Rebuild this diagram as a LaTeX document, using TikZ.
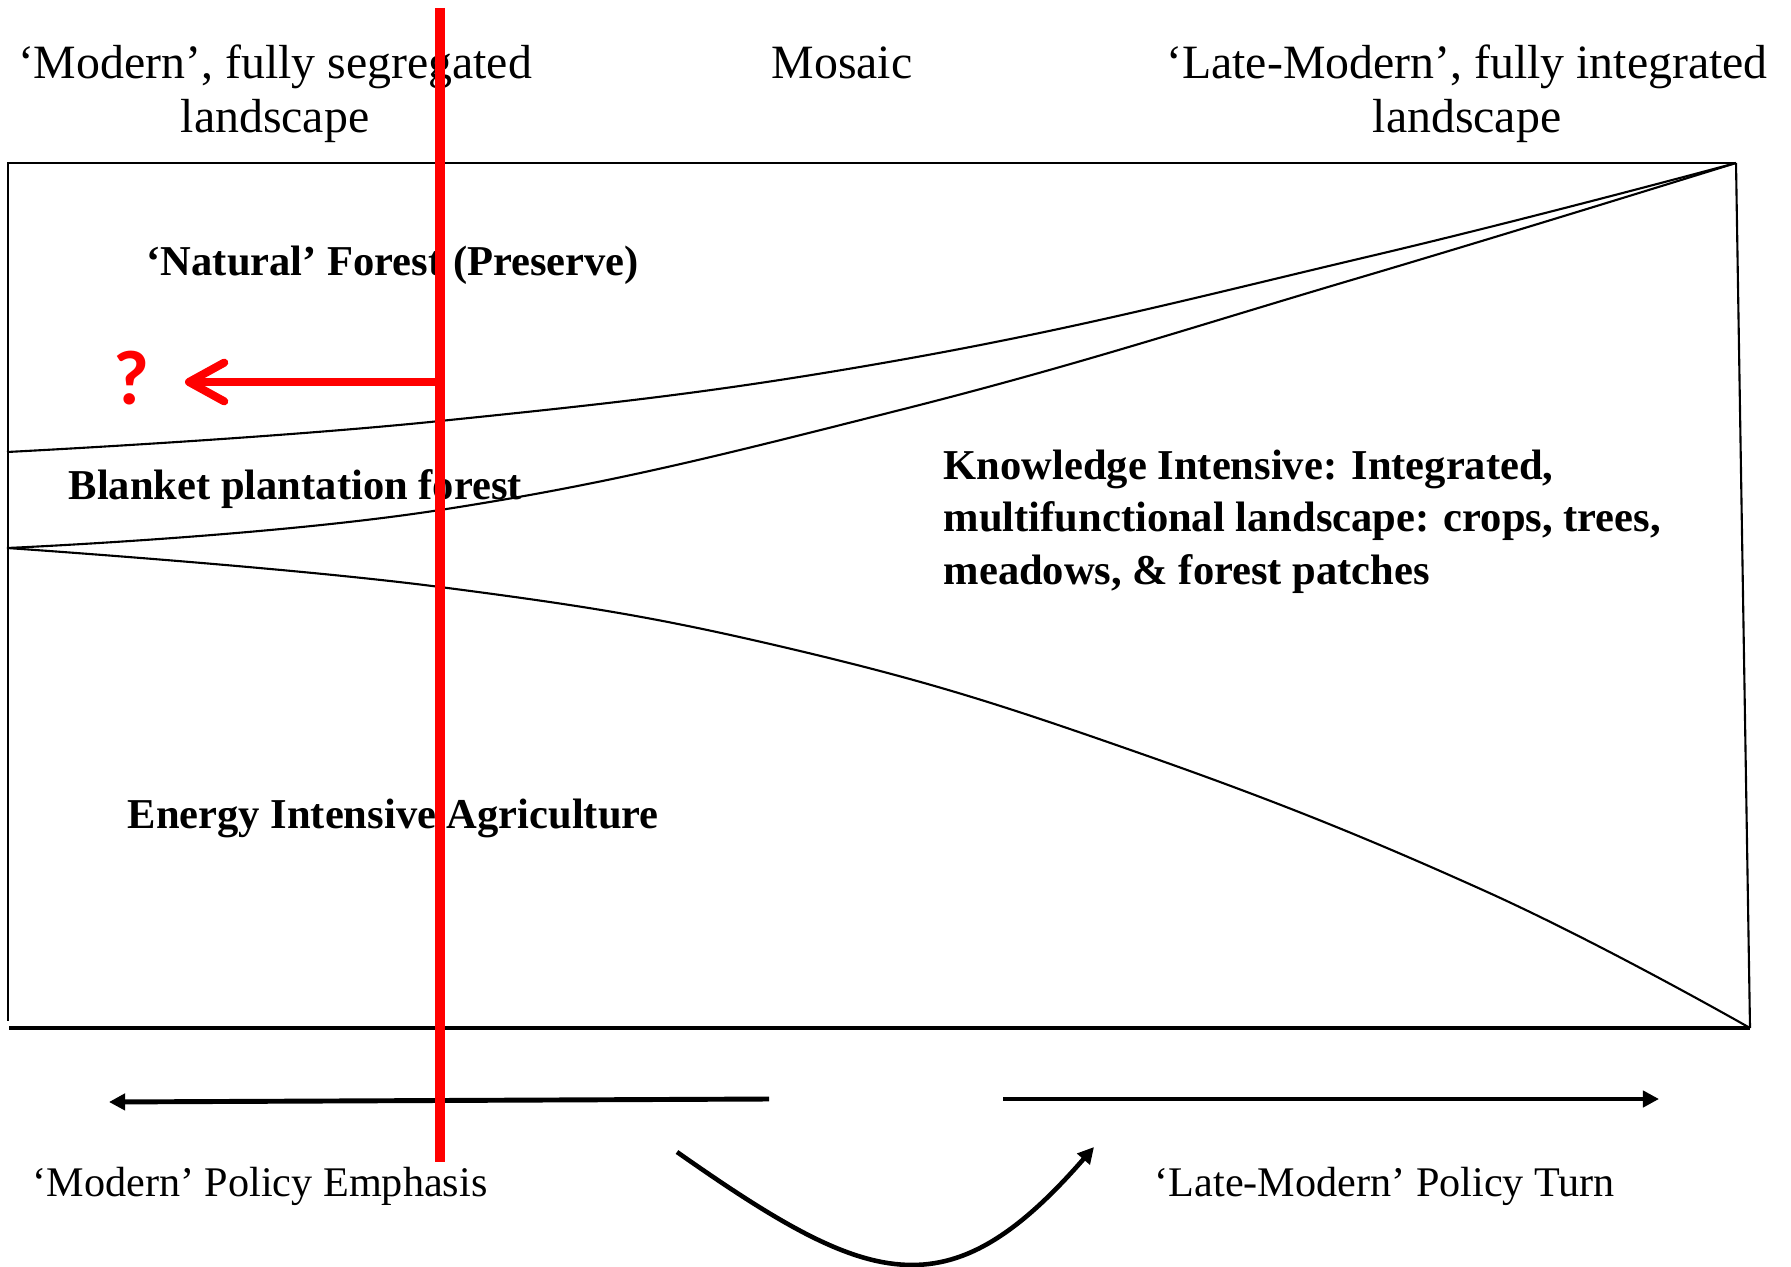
\documentclass[tikz,border=0pt]{standalone}
\usepackage{fontspec}
\setmainfont{Liberation Serif}
\newfontfamily\qfont{Carlito}
\usetikzlibrary{arrows.meta}
\begin{document}
\begin{tikzpicture}[x=0.01cm, y=-0.01cm, line join=round, >={Triangle[length=4.6pt,width=4.6pt]},
	toplabel/.style={font=\fontsize{13.6}{15.6}\selectfont, align=center, anchor=base, inner sep=0pt},
	zonelabel/.style={font=\fontsize{12.1}{14.8}\selectfont\bfseries, align=left, anchor=base west, inner sep=0pt},
	policylabel/.style={font=\fontsize{12}{14}\selectfont, anchor=base west, inner sep=0pt}]
	\useasboundingbox (0,0) rectangle (1791,1267);
	%\draw[help lines] (0,0) grid[step=100] (1791,1267);
	\coordinate (tl) at (7,163); \coordinate (tr) at (1736,163);
	\coordinate (bl) at (9,1028); \coordinate (br) at (1750,1028);
	\coordinate (redtop) at (440,8); \coordinate (redbot) at (440,1162); \coordinate (redmid) at (440,382);
	\coordinate (modfrom) at (769,1099); \coordinate (modto) at (109,1102);
	\coordinate (latefrom) at (1003,1099); \coordinate (lateto) at (1659,1099);
	\coordinate (turnfrom) at (677,1152); \coordinate (turnto) at (1094,1147);
	\node[toplabel] (modern) at (275,133) {‘Modern’, fully segregated\\landscape};
	\node[toplabel] (mosaic) at (842,79) {Mosaic};
	\node[toplabel] (latemodern) at (1467,133) {‘Late-Modern’, fully integrated\\landscape};
	\node[zonelabel] (natural) at (146,276) {‘Natural’ Forest (Preserve)};
	\node[zonelabel] (blanket) at (68,499) {Blanket plantation forest};
	\node[zonelabel] (knowledge) at (943,584) {Knowledge Intensive: Integrated,\\multifunctional landscape: crops, trees,\\meadows, \& forest patches};
	\node[zonelabel] (energy) at (127,828) {Energy Intensive Agriculture};
	\node[policylabel] (modpolicy) at (32,1196) {‘Modern’ Policy Emphasis};
	\node[policylabel] (latepolicy) at (1154,1196) {‘Late-Modern’ Policy Turn};
	\node[text=red, font=\qfont\bfseries\fontsize{22}{24}\selectfont] (qmark) at (131,378) {?};
	\draw[line width=0.8pt] (tl) -- (tr);
	\draw[line width=0.8pt] (8,163) -- (8,1021);
	\draw[line width=0.6pt] (tr) -- (br);
	\draw[line width=1pt] (bl) -- (br);
	\draw[line width=0.6pt] plot[smooth,tension=0.7] coordinates{(7,452) (440,421) (900,360) (1371,256) (tr)};
	\draw[line width=0.6pt] plot[smooth,tension=0.7] coordinates{(7,548) (440,510) (900,410) (1355,279) (tr)};
	\draw[line width=0.6pt] plot[smooth,tension=0.7] coordinates{(7,548) (440,587) (800,651) (1142,754) (1485,891) (br)};
	\draw[line width=1.4pt,->] (modfrom) -- (modto);
	\draw[line width=1.4pt,->] (latefrom) -- (lateto);
	\draw[line width=1.3pt,->] (turnfrom) .. controls (868,1286) and (947,1316) .. (turnto);
	\draw[red, line width=2.8pt] (redtop) -- (redbot);
	\draw[red, line width=2.3pt, -{Straight Barb[round,length=10pt,width=11pt]}] (redmid) -- (185,382);
\end{tikzpicture}
\end{document}
